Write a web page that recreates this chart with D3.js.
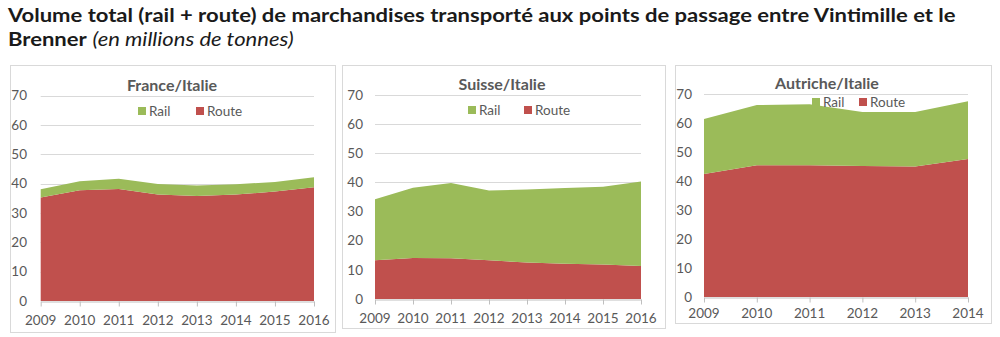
<!DOCTYPE html>
<html><head><meta charset="utf-8">
<script src="https://cdn.jsdelivr.net/npm/d3@7"></script>
<style>
body{margin:0;background:#fff}
svg{display:block}
text{font-family:Lato,"Open Sans",sans-serif}
</style>
</head><body>
<svg id="c" width="1000" height="337"></svg>
<script>
// ---- data ----
const yearsFR = ["2009","2010","2011","2012","2013","2014","2015","2016"];
const routeFR = [35.3,37.8,38.2,36.3,35.8,36.3,37.3,38.8];
const railFR  = [2.8,3.0,3.5,3.6,3.6,3.5,3.3,3.4];

const yearsCH = ["2009","2010","2011","2012","2013","2014","2015","2016"];
const routeCH = [13.3,14.1,14.0,13.3,12.5,12.1,11.8,11.3];
const railCH  = [20.9,24.1,25.8,23.9,25.1,26.0,26.7,29.0];

const yearsAT = ["2009","2010","2011","2012","2013","2014"];
const routeAT = [42.4,45.4,45.4,45.2,45.0,47.6];
const railAT  = [19.0,20.8,21.1,18.6,18.8,19.9];

const yTicks = [0,10,20,30,40,50,60,70];
const seriesNames = ["Rail","Route"];
const panelTitles = ["France/Italie","Suisse/Italie","Autriche/Italie"];
const mainTitle1 = "Volume total (rail + route) de marchandises transporté aux points de passage entre Vintimille et le";
const mainTitle2Bold = "Brenner";
const mainTitle2Ital = "(en millions de tonnes)";

// ---- layout ----
const colors = {Rail:"#9bbb59", Route:"#c0504d"};
const textCol = "#595959";
const svg = d3.select("#c");

const panels = [
  {title:panelTitles[0], years:yearsFR, route:routeFR, rail:railFR,
   box:[10,65,335,332], px:[40.7,314], py:[95.7,301], tc:[172,85], ly:111, lx:[138,196], xly:320, yx:27},
  {title:panelTitles[1], years:yearsCH, route:routeCH, rail:railCH,
   box:[342,65,665,328], px:[375,641], py:[95,299], tc:[502,84], ly:110, lx:[468,524], xly:318, yx:363},
  {title:panelTitles[2], years:yearsAT, route:routeAT, rail:railAT,
   box:[675,65,991,323], px:[704,968], py:[94,297], tc:[827,83], ly:102, lx:[812,859], xly:313, yx:692}
];

// main title
const t1 = svg.append("text").attr("x",8).attr("y",22)
  .attr("font-size",19).attr("font-weight","bold").attr("fill","#1a1a1a").text(mainTitle1);
const w1 = t1.node().getComputedTextLength();
const sx = 948 / w1;
t1.attr("transform",`translate(8,0) scale(${sx},1) translate(-8,0)`);
const t2 = svg.append("text").attr("x",8).attr("y",46).attr("font-size",19).attr("fill","#1a1a1a")
  .attr("transform",`translate(8,0) scale(${sx},1) translate(-8,0)`);
t2.append("tspan").attr("font-weight","bold").text(mainTitle2Bold);
t2.append("tspan").attr("font-style","italic").attr("dx",5).text(mainTitle2Ital);

panels.forEach(p => {
  const g = svg.append("g");
  g.append("rect").attr("x",p.box[0]+0.5).attr("y",p.box[1]+0.5)
    .attr("width",p.box[2]-p.box[0]).attr("height",p.box[3]-p.box[1])
    .attr("fill","#fff").attr("stroke","#d9d9d9");

  const x = d3.scalePoint().domain(p.years).range(p.px);
  const y = d3.scaleLinear().domain([0,70]).range([p.py[1],p.py[0]]);

  // gridlines
  g.append("g").selectAll("line").data(yTicks.filter(d=>d>0)).join("line")
    .attr("x1",p.px[0]).attr("x2",p.px[1])
    .attr("y1",d=>Math.round(y(d))+0.5).attr("y2",d=>Math.round(y(d))+0.5)
    .attr("stroke","#d9d9d9");

  // stacked areas
  const rows = p.years.map((yr,i)=>({year:yr, Route:p.route[i], Rail:p.rail[i]}));
  const stack = d3.stack().keys(["Route","Rail"])(rows);
  const area = d3.area().x(d=>x(d.data.year)).y0(d=>y(d[0])).y1(d=>y(d[1]));
  g.append("g").selectAll("path").data(stack).join("path")
    .attr("d",area).attr("fill",d=>colors[d.key]);

  // x axis
  const xa = g.append("g").attr("transform",`translate(0,${Math.round(y(0))+0.5})`)
    .call(d3.axisBottom(x).tickSize(5).tickPadding(6).tickSizeOuter(0));
  xa.select(".domain").attr("stroke","#bfbfbf");
  xa.selectAll(".tick line").attr("stroke","#bfbfbf");
  xa.selectAll(".tick text").remove();
  g.append("g").selectAll("text").data(p.years).join("text")
    .attr("x",d=>x(d)).attr("y",p.xly).attr("dy","0.35em")
    .attr("text-anchor","middle").attr("font-size",13.5).attr("fill",textCol).text(d=>d);

  // y labels
  g.append("g").selectAll("text").data(yTicks).join("text")
    .attr("x",p.yx).attr("y",d=>y(d)).attr("dy","0.35em")
    .attr("text-anchor","end").attr("font-size",13.5).attr("fill",textCol).text(d=>d);

  // title
  g.append("text").attr("x",p.tc[0]).attr("y",p.tc[1]).attr("dy","0.35em")
    .attr("text-anchor","middle").attr("font-size",16).attr("font-weight","bold")
    .attr("fill",textCol).text(p.title);

  // legend
  seriesNames.forEach((s,i)=>{
    g.append("rect").attr("x",p.lx[i]).attr("y",p.ly-4).attr("width",8).attr("height",8)
      .attr("fill",colors[s]);
    g.append("text").attr("x",p.lx[i]+11).attr("y",p.ly).attr("dy","0.35em")
      .attr("font-size",13.5).attr("fill",textCol).text(s);
  });
});
</script>
</body></html>
